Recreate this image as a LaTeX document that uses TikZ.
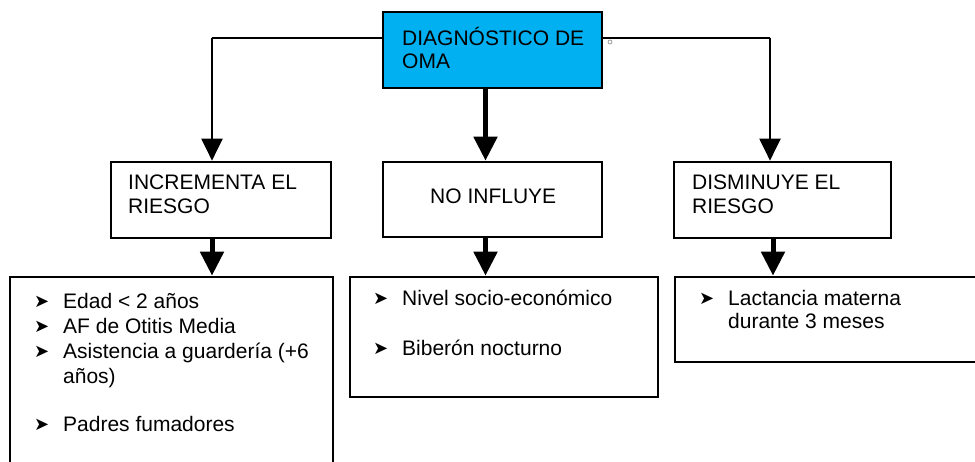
\documentclass[tikz,border=0pt]{standalone}
\usepackage{fontspec}
\setmainfont{Liberation Sans}
\newfontfamily\dejavu{DejaVu Sans}
\usetikzlibrary{arrows.meta}
\definecolor{diagblue}{RGB}{0,176,240}
\newcommand\bul{\llap{\raisebox{0.5pt}{\dejavu\fontsize{18}{18}\selectfont ➤}\hspace{14pt}}}
\begin{document}
\begin{tikzpicture}[x=1pt,y=-1pt,
  box/.style={draw=black, line width=2.7pt, fill=white, rectangle, inner sep=0pt},
  txt/.style={inner sep=0pt, anchor=base west, align=left},
  thinarrow/.style={line width=2.2pt, -{Triangle[width=21pt,length=22pt]}},
  thickarrow/.style={line width=5pt, -{Triangle[width=23pt,length=24pt]}},
]
\clip (0,0) rectangle (975,461);
\fill[white] (0,0) rectangle (975,461);

% boxes
\node[box, fill=diagblue, minimum width=219pt, minimum height=76pt] (top) at (492.5,50) {};
\node[box, minimum width=220pt, minimum height=76pt] (inc) at (221,200) {};
\node[box, minimum width=219pt, minimum height=75pt] (noinf) at (492.5,199.5) {};
\node[box, minimum width=217pt, minimum height=76pt] (dis) at (782.5,200) {};
\node[box, minimum width=323pt, minimum height=203pt] (incl) at (171.5,378.5) {};
\node[box, minimum width=308pt, minimum height=120pt] (noinfl) at (504,337) {};
\node[box, minimum width=315pt, minimum height=85pt] (disl) at (832.5,319.5) {};

% junction coordinates
\coordinate (jl) at (212,38);
\coordinate (jr) at (770,38);
\coordinate (cx) at (485.5,0);
\coordinate (dx) at (773,0);

% connectors
\draw[line width=2.2pt] (top.west |- jl) -- (jl);
\draw[thinarrow] (jl) -- (jl |- inc.north);
\draw[line width=2.2pt] (top.east |- jr) -- (jr);
\draw[thinarrow] (jr) -- (jr |- dis.north);
\draw[thickarrow] (top.south -| cx) -- (noinf.north -| cx);
\draw[thickarrow] (inc.south -| jl) -- (incl.north -| jl);
\draw[thickarrow] (noinf.south -| cx) -- (noinfl.north -| cx);
\draw[thickarrow] (dis.south -| dx) -- (disl.north -| dx);

\node[circle, draw=gray, line width=0.6pt, inner sep=0pt, minimum size=4pt] (deg) at (610,42) {};

% texts (anchor = baseline of last line)
\node[txt, font=\fontsize{21}{23}\selectfont] (toptxt) at (402,68) {DIAGNÓSTICO DE\\OMA};
\node[txt, font=\fontsize{21}{24}\selectfont] (inctxt) at (128,213) {INCREMENTA EL\\RIESGO};
\node[txt, font=\fontsize{21}{24}\selectfont] (noinftxt) at (430,203) {NO INFLUYE};
\node[txt, font=\fontsize{21}{24}\selectfont] (distxt) at (692,213) {DISMINUYE EL\\RIESGO};

\node[txt, font=\fontsize{21}{25}\selectfont] (incltxt) at (63,431)
  {\bul Edad < 2 años\\ \bul AF de Otitis Media\\ \bul Asistencia a guardería (+6\\ años)\\[23pt] \bul Padres fumadores};
\node[txt, font=\fontsize{21}{25}\selectfont] (noinfltxt) at (402,355)
  {\bul Nivel socio-económico\\[25pt] \bul Biberón nocturno};
\node[txt, font=\fontsize{21}{23}\selectfont] (distltxt) at (728,328)
  {\bul Lactancia materna\\ durante 3 meses};
\end{tikzpicture}
\end{document}
